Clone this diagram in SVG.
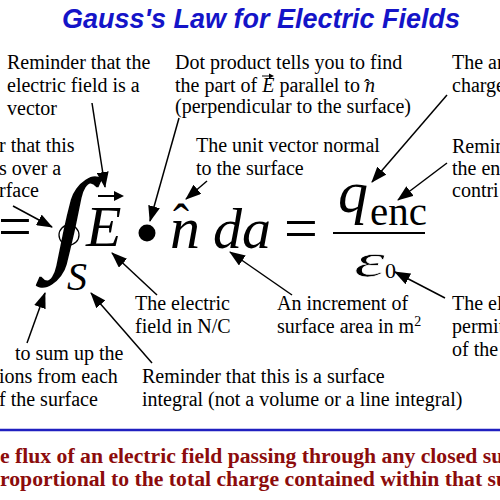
<svg xmlns="http://www.w3.org/2000/svg" width="500" height="500" viewBox="0 0 500 500">
<defs>
<marker id="ah" markerUnits="userSpaceOnUse" markerWidth="16" markerHeight="12" refX="15" refY="6" orient="auto">
<path d="M0,0 L16,6 L0,12 z" fill="#000"/>
</marker>
<style>
.lbl{font-family:"Liberation Serif","Times New Roman",serif;font-size:20px;fill:#000}
.mi{font-family:"Liberation Serif","Times New Roman",serif;font-style:italic;fill:#000}
.mr{font-family:"Liberation Serif","Times New Roman",serif;fill:#000}
.title{font-family:"Liberation Sans",Arial,sans-serif;font-weight:bold;font-style:italic;font-size:27px;fill:#1414c8}
.law{font-family:"Liberation Serif","Times New Roman",serif;font-weight:bold;font-size:21.7px;fill:#8c0c0c}
.conn line{stroke:#000;stroke-width:1.5;marker-end:url(#ah)}
</style>
</defs>
<rect width="500" height="500" fill="#fff"/>
<text id="title" class="title" x="62" y="28">Gauss's Law for Electric Fields</text>

<g id="equation">
<text class="mr" x="-2" y="246" font-size="60">=</text>
<text class="mr" transform="translate(69,233) skewX(-12)" x="0" y="24" font-size="112" text-anchor="middle" stroke="#000" stroke-width="1.6">∫</text>
<circle cx="69" cy="235" r="10" fill="none" stroke="#000" stroke-width="1.3"/>
<text class="mi" x="67" y="290" font-size="40">S</text>
<text class="mi" x="86" y="246" font-size="58">E</text>
<line x1="98" y1="196" x2="116" y2="196" stroke="#000" stroke-width="2"/>
<path d="M114,191 L124,196 L114,201 z" fill="#000"/>
<circle cx="147" cy="233" r="8.5" fill="#000"/>
<text class="mi" x="170" y="248" font-size="60">n</text>
<text class="mr" x="173" y="238" font-size="48">ˆ</text>
<text class="mi" x="213" y="248" font-size="58">da</text>
<text class="mr" x="284" y="248" font-size="60">=</text>
<text class="mi" x="338" y="212" font-size="60">q</text>
<text class="mr" x="370" y="225" font-size="41">enc</text>
<line x1="333" y1="233" x2="425" y2="233" stroke="#000" stroke-width="2"/>
<text class="mi" x="354" y="277" font-size="49" textLength="31" lengthAdjust="spacingAndGlyphs" stroke="#fff" stroke-width="0.7">ε</text>
<text class="mr" x="385" y="278" font-size="22">0</text>
</g>

<g id="note-vector" class="lbl">
<text x="7" y="69">Reminder that the</text>
<text x="7" y="92">electric field is a</text>
<text x="7" y="115">vector</text>
</g>
<g id="note-dot" class="lbl">
<text x="175" y="69">Dot product tells you to find</text>
<text x="175" y="92">the part of <tspan font-style="italic">E</tspan> parallel to <tspan font-style="italic">n</tspan></text>
<text x="175" y="113">(perpendicular to the surface)</text>
<line x1="262" y1="76" x2="271" y2="76" stroke="#000" stroke-width="1"/>
<path d="M269,73.5 L274,76 L269,78.5 z" fill="#000"/>
<text x="364" y="92" font-size="18">ˆ</text>
</g>
<g id="note-charge" class="lbl">
<text x="452" y="69">The an</text>
<text x="452" y="92">charge</text>
</g>
<g id="note-closed" class="lbl">
<text x="-1" y="152">r that this</text>
<text x="-1" y="175">s over a</text>
<text x="-1" y="197">rface</text>
</g>
<g id="note-unit" class="lbl">
<text x="196" y="152">The unit vector normal</text>
<text x="196" y="175">to the surface</text>
</g>
<g id="note-enc" class="lbl">
<text x="452" y="153">Remin</text>
<text x="452" y="175">the en</text>
<text x="452" y="197">contri</text>
</g>
<g id="note-field" class="lbl">
<text x="135" y="310">The electric</text>
<text x="135" y="333">field in N/C</text>
</g>
<g id="note-area" class="lbl">
<text x="277" y="310">An increment of</text>
<text x="277" y="333">surface area in m<tspan font-size="14" dy="-7">2</tspan></text>
</g>
<g id="note-perm" class="lbl">
<text x="452" y="310">The el</text>
<text x="452" y="333">permit</text>
<text x="452" y="356">of the</text>
</g>
<g id="note-sum" class="lbl">
<text x="15" y="360">to sum up the</text>
<text x="-1" y="383">ions from each</text>
<text x="-1" y="406">f the surface</text>
</g>
<g id="note-surface" class="lbl">
<text x="142" y="383">Reminder that this is a surface</text>
<text x="142" y="406">integral (not a volume or a line integral)</text>
</g>

<g id="connectors" class="conn">
<line x1="92" y1="103" x2="105" y2="187"/>
<line x1="179" y1="118" x2="150" y2="221"/>
<line x1="447" y1="95" x2="372" y2="182"/>
<line x1="447" y1="163" x2="398" y2="200"/>
<line x1="13" y1="206" x2="52" y2="227"/>
<line x1="207" y1="181" x2="186" y2="199"/>
<line x1="157" y1="295" x2="112" y2="253"/>
<line x1="292" y1="295" x2="230" y2="252"/>
<line x1="445" y1="298" x2="395" y2="272"/>
<line x1="27" y1="343" x2="45" y2="293"/>
<line x1="152" y1="363" x2="91" y2="293"/>
</g>

<line id="rule" x1="0" y1="430" x2="500" y2="430" stroke="#2020c0" stroke-width="2.5"/>
<g id="law" class="law">
<text x="0" y="463">e flux of an electric field passing through any closed su</text>
<text x="0" y="486">roportional to the total charge contained within that su</text>
</g>
</svg>
